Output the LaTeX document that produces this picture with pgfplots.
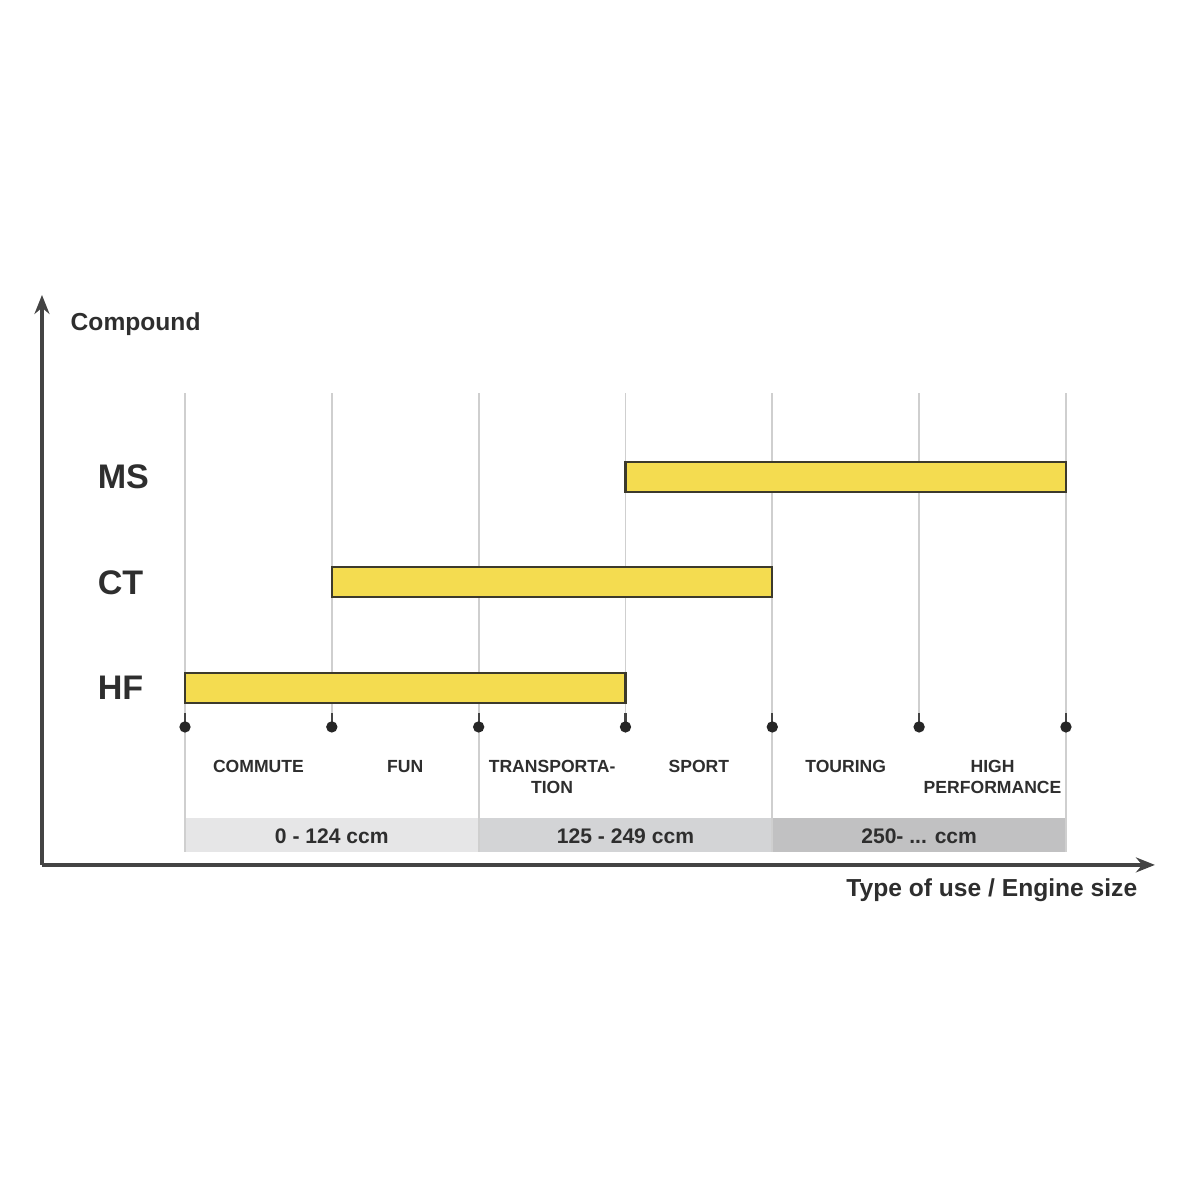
\documentclass[border=0pt]{standalone}
\usepackage{fontspec}
\setmainfont{Liberation Sans}
\usepackage{pgfplots}
\pgfplotsset{compat=1.18}
\usetikzlibrary{arrows.meta}
\definecolor{barfill}{HTML}{F4DC50}
\definecolor{barline}{HTML}{3C3A2C}
\definecolor{gridc}{HTML}{CFCFCF}
\definecolor{bandA}{HTML}{E6E6E7}
\definecolor{bandB}{HTML}{D3D4D6}
\definecolor{bandC}{HTML}{C1C1C2}
\definecolor{axc}{HTML}{444444}
\definecolor{txt}{HTML}{2E2E2E}
\begin{document}
\begin{tikzpicture}
\begin{axis}[
  scale only axis, width=111.3mm, height=57.0mm,
  xmin=-0.974, xmax=6.606, ymin=-0.678, ymax=4.725,
  axis lines=left,
  axis line style={axc, line width=0.9pt, -{Stealth[length=1.9mm, width=1.5mm]}},
  xtick=\empty, ytick=\empty, clip=false,
]
% bounding box of full image
\path (axis cs:-1.26,-3.853) rectangle (axis cs:6.913,7.521);
% bands
\addplot[fill=bandA, draw=none] coordinates {(0,-0.555)(2,-0.555)(2,-0.232)(0,-0.232)} --cycle;
\addplot[fill=bandB, draw=none] coordinates {(2,-0.555)(4,-0.555)(4,-0.232)(2,-0.232)} --cycle;
\addplot[fill=bandC, draw=none] coordinates {(4,-0.555)(6,-0.555)(6,-0.232)(4,-0.232)} --cycle;
% grid lines
\addplot[gridc, line width=0.5pt] coordinates {(0,-0.555)(0,3.796)};
\addplot[gridc, line width=0.5pt] coordinates {(1,0.63)(1,3.796)};
\addplot[gridc, line width=0.5pt] coordinates {(2,-0.555)(2,3.796)};
\addplot[gridc, line width=0.5pt] coordinates {(3,0.63)(3,3.796)};
\addplot[gridc, line width=0.5pt] coordinates {(4,-0.555)(4,3.796)};
\addplot[gridc, line width=0.5pt] coordinates {(5,0.63)(5,3.796)};
\addplot[gridc, line width=0.5pt] coordinates {(6,-0.555)(6,3.796)};
% stems
\addplot[axc, line width=0.6pt] coordinates {(0,0.63)(0,0.763)};
\addplot[axc, line width=0.6pt] coordinates {(1,0.63)(1,0.763)};
\addplot[axc, line width=0.6pt] coordinates {(2,0.63)(2,0.763)};
\addplot[axc, line width=0.6pt] coordinates {(3,0.63)(3,0.763)};
\addplot[axc, line width=0.6pt] coordinates {(4,0.63)(4,0.763)};
\addplot[axc, line width=0.6pt] coordinates {(5,0.63)(5,0.763)};
\addplot[axc, line width=0.6pt] coordinates {(6,0.63)(6,0.763)};
% dots
\addplot[only marks, mark=*, mark size=1.4pt, black!85, mark options={fill=black!85}] coordinates {(0,0.63)(1,0.63)(2,0.63)(3,0.63)(4,0.63)(5,0.63)(6,0.63)};
% bars
\addplot[fill=barfill, draw=barline, line width=0.6pt] coordinates {(3,2.858)(6,2.858)(6,3.142)(3,3.142)} --cycle;
\addplot[fill=barfill, draw=barline, line width=0.6pt] coordinates {(1,1.858)(4,1.858)(4,2.142)(1,2.142)} --cycle;
\addplot[fill=barfill, draw=barline, line width=0.6pt] coordinates {(0,0.858)(3,0.858)(3,1.142)(0,1.142)} --cycle;
% compound labels
\node[anchor=west, inner sep=0, text=txt, font=\fontsize{9.7}{11}\selectfont\bfseries] at (axis cs:-0.599,3) {MS};
\node[anchor=west, inner sep=0, text=txt, font=\fontsize{9.7}{11}\selectfont\bfseries] at (axis cs:-0.599,2) {CT};
\node[anchor=west, inner sep=0, text=txt, font=\fontsize{9.7}{11}\selectfont\bfseries] at (axis cs:-0.599,1) {HF};
% category labels
\tikzset{cat/.style={anchor=base, inner sep=0, text=txt, font=\fontsize{5.0}{6}\selectfont\bfseries}}
\node[cat] at (axis cs:0.5,0.194) {COMMUTE};
\node[cat] at (axis cs:1.5,0.194) {FUN};
\node[cat] at (axis cs:2.5,0.194) {TRANSPORTA-};
\node[cat] at (axis cs:2.5,-0.005) {TION};
\node[cat] at (axis cs:3.5,0.194) {SPORT};
\node[cat] at (axis cs:4.5,0.194) {TOURING};
\node[cat] at (axis cs:5.5,0.194) {HIGH};
\node[cat] at (axis cs:5.5,-0.005) {PERFORMANCE};
% band labels
\tikzset{band/.style={anchor=base, inner sep=0, text=txt, font=\fontsize{6}{7}\selectfont\bfseries}}
\node[band] at (axis cs:1,-0.475) {0 - 124 ccm};
\node[band] at (axis cs:3,-0.475) {125 - 249 ccm};
\node[band] at (axis cs:5,-0.475) {250- ... ccm};
% axis titles
\node[anchor=base west, inner sep=0, text=txt, font=\fontsize{7}{8}\selectfont\bfseries] at (axis cs:-0.783,4.384) {Compound};
\node[anchor=base east, inner sep=0, text=txt, font=\fontsize{7}{8}\selectfont\bfseries] at (axis cs:6.490,-0.981) {Type of use / Engine size};
\end{axis}
\end{tikzpicture}
\end{document}
